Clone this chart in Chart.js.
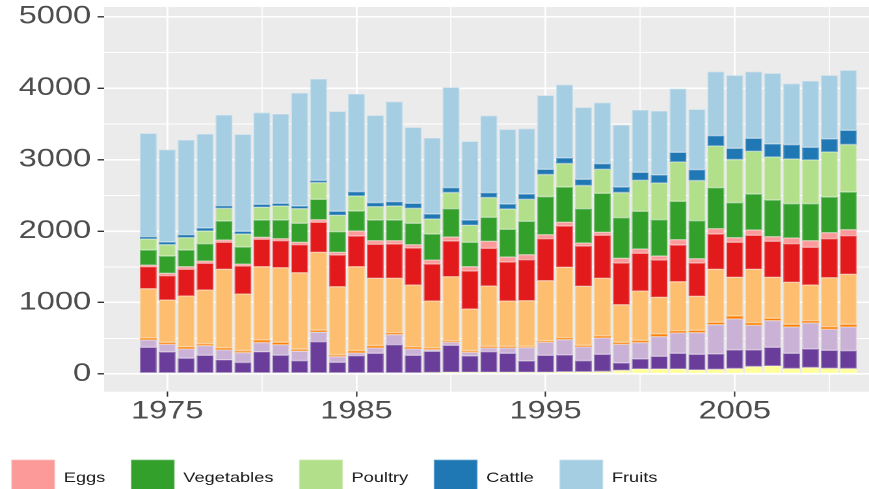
<!DOCTYPE html>
<html>
<head>
<meta charset="utf-8">
<script src="https://cdn.jsdelivr.net/npm/chart.js@4.4.1/dist/chart.umd.min.js"></script>
<style>
  html, body { margin: 0; padding: 0; background: #ffffff; overflow: hidden; width: 869px; height: 489px; }
  #wrap { position: absolute; left: 0; top: 0; width: 668px; height: 506px; transform: scaleX(1.30090); transform-origin: 0 0; }
</style>
</head>
<body>
<div id="wrap"><canvas id="c" width="668" height="506"></canvas></div>
<script>
const years = [1974,1975,1976,1977,1978,1979,1980,1981,1982,1983,1984,1985,1986,1987,1988,1989,1990,1991,1992,1993,1994,1995,1996,1997,1998,1999,2000,2001,2002,2003,2004,2005,2006,2007,2008,2009,2010,2011];

// stacked from bottom to top
const series1 = [15,15,15,15,15,15,15,15,15,15,15,15,15,15,15,20,25,25,25,25,25,25,30,30,35,50,70,70,70,56,65,75,103,112,75,89,79,75];
const series2 = [358,293,207,246,183,146,295,249,172,437,148,242,274,395,246,297,376,227,288,264,157,236,236,157,240,104,140,177,219,219,215,261,233,261,214,261,252,252];
const series3 = [103,107,128,134,138,138,129,144,133,133,80,37,75,140,89,23,42,51,51,75,187,182,214,191,229,261,229,275,285,303,410,434,345,373,369,364,294,331];
const series4 = [28,28,30,25,28,28,37,35,28,29,23,33,33,28,28,24,23,24,23,23,18,19,28,23,28,28,32,38,32,33,33,42,37,33,37,32,37,37];
const series5 = [690,593,712,756,1101,793,1026,1045,1070,1089,956,1175,942,761,868,658,896,583,845,635,639,844,985,826,807,527,691,513,686,476,742,541,747,574,588,500,686,700];
const series6 = [308,340,373,373,378,391,383,378,392,420,443,429,476,480,517,517,499,531,527,545,574,588,578,564,602,583,527,522,513,466,494,490,476,504,541,527,546,541];
const eggs = [23,33,37,32,32,28,28,28,33,37,38,70,51,47,47,56,56,61,98,70,70,56,52,42,42,66,60,56,75,61,75,65,74,65,79,93,84,84];
const vegetables = [210,242,233,243,266,238,242,261,266,284,289,280,289,289,299,364,397,341,336,388,467,532,494,481,545,569,528,509,536,532,574,490,504,513,481,518,499,527];
const poultry = [154,159,173,177,177,182,178,196,205,234,229,210,187,196,209,210,224,238,275,284,307,308,327,322,336,350,433,513,551,560,583,602,597,602,625,611,630,663];
const cattle = [33,37,42,42,38,38,41,37,37,32,56,61,56,61,70,70,70,74,70,70,75,74,79,88,80,79,112,112,135,154,144,158,182,182,201,177,182,200];
const fruits = [1446,1293,1325,1316,1269,1357,1283,1251,1582,1419,1399,1367,1222,1399,1064,1064,1404,1101,1077,1045,914,1036,1026,1008,853,868,873,896,891,844,896,1022,933,989,853,929,891,840];

const seriesNames = ['Series 1','Series 2','Series 3','Series 4','Series 5','Series 6','Eggs','Vegetables','Poultry','Cattle','Fruits'];
const legendNames = ['Eggs','Vegetables','Poultry','Cattle','Fruits'];
const xTickValues = [1975,1980,1985,1990,1995,2000,2005,2010];
const yTickValues = [0,500,1000,1500,2000,2500,3000,3500,4000,4500,5000];

const seriesValues = [series1,series2,series3,series4,series5,series6,eggs,vegetables,poultry,cattle,fruits];
const colors = ['#FFFF99','#6A3D9A','#CAB2D6','#FF7F00','#FDBF6F','#E31A1C','#FB9A99','#33A02C','#B2DF8A','#1F78B4','#A6CEE3'];

function lighten(hex, t) {
  const n = parseInt(hex.slice(1), 16);
  const r = (n >> 16) & 255, g = (n >> 8) & 255, b = n & 255;
  const m = c => Math.round(c + (255 - c) * t);
  return 'rgb(' + m(r) + ',' + m(g) + ',' + m(b) + ')';
}

const datasets = seriesValues.map((vals, k) => ({
  label: seriesNames[k],
  data: years.map((yr, i) => ({ x: yr, y: vals[i] })),
  backgroundColor: colors[k],
  borderColor: lighten(colors[k], 0.35),
  borderWidth: 0.7,
  borderSkipped: false,
  barPercentage: 0.9,
  categoryPercentage: 1.0
}));

const panelBg = {
  id: 'panelBg',
  beforeDraw(chart) {
    const { ctx, chartArea: a } = chart;
    ctx.save();
    ctx.fillStyle = '#EBEBEB';
    ctx.fillRect(a.left, a.top, a.right - a.left, a.bottom - a.top);
    ctx.restore();
  }
};

const fontFamily = '"Liberation Sans", Arial, Helvetica, sans-serif';

new Chart(document.getElementById('c'), {
  type: 'bar',
  data: { datasets },
  plugins: [panelBg],
  options: {
    responsive: false,
    animation: false,
    devicePixelRatio: 2,
    layout: { padding: { top: 7, left: -11, right: 0, bottom: 0 } },
    plugins: {
      tooltip: { enabled: false },
      legend: {
        position: 'bottom',
        align: 'start',
        labels: {
          filter: item => legendNames.includes(item.text),
          boxWidth: 33,
          boxHeight: 36,
          padding: 20,
          color: '#1A1A1A',
          font: { family: fontFamily, size: 14 }
        }
      }
    },
    scales: {
      x: {
        type: 'linear',
        stacked: true,
        offset: false,
        min: 1971.662,
        max: 2012.094,
        afterBuildTicks: s => { s.ticks = xTickValues.map(v => ({ value: v })); },
        afterFit: s => { s.height = 48.3; s.paddingLeft = 0; s.paddingRight = 0; },
        border: { display: false },
        grid: {
          offset: false,
          color: '#FFFFFF',
          lineWidth: c => (c.tick && c.tick.value % 10 === 5) ? 1.4 : 0.8,
          drawTicks: true,
          tickLength: 5,
          tickWidth: 1.1,
          tickColor: c => (c.tick && c.tick.value % 10 === 5) ? '#333333' : 'rgba(0,0,0,0)'
        },
        ticks: {
          autoSkip: false,
          maxRotation: 0,
          padding: 0,
          color: '#4D4D4D',
          font: { family: fontFamily, size: 25 },
          callback: v => (v % 10 === 5) ? String(v) : ''
        }
      },
      y: {
        stacked: true,
        min: -248,
        max: 5136,
        afterBuildTicks: s => { s.ticks = yTickValues.map(v => ({ value: v })); },
        afterFit: s => { s.width = 91; s.paddingTop = 0; s.paddingBottom = 0; },
        border: { display: false },
        grid: {
          color: '#FFFFFF',
          lineWidth: c => (c.tick && c.tick.value % 1000 === 0) ? 1.6 : 0.9,
          drawTicks: true,
          tickLength: 5,
          tickWidth: 1.4,
          tickColor: c => (c.tick && c.tick.value % 1000 === 0) ? '#333333' : 'rgba(0,0,0,0)'
        },
        ticks: {
          autoSkip: false,
          padding: 5,
          color: '#4D4D4D',
          font: { family: fontFamily, size: 25 },
          callback: v => (v % 1000 === 0) ? String(v) : ''
        }
      }
    }
  }
});
</script>
</body>
</html>
